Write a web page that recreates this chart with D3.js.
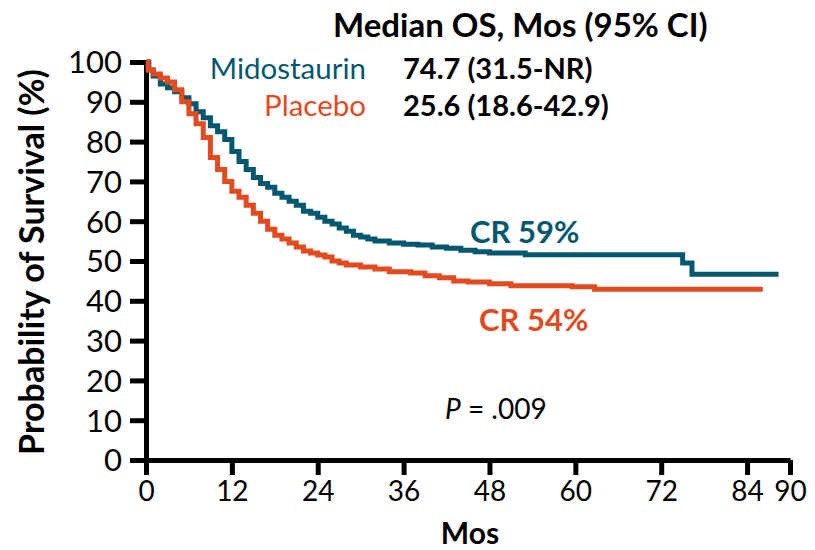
<!DOCTYPE html>
<html>
<head>
<meta charset="utf-8">
<script src="https://cdn.jsdelivr.net/npm/d3@7"></script>
<style>
  body { margin: 0; background: #fff; }
  text { font-family: Lato, "Open Sans", sans-serif; }
</style>
</head>
<body>
<div id="viz"></div>
<script>
const width = 815;
const height = 550;
const teal = '#03586f';
const orange = '#e24a1f';

// Kaplan-Meier steps: [month, % surviving]
const midostaurin = [
  [0,100],[0.4,98],[1,96.5],[2,94.5],[3,93.5],[4,92.5],[5,91],[6,89.5],[7,87.5],[8,86],
  [9,84],[10,82.5],[11,80.5],[12,77.5],[13,75],[14,73],[15,71],[16,69.5],[17,68.5],[18,67],
  [19,66],[20,65],[21,64],[22,62.5],[23,62],[24,61],[25,60],[26,59.3],[27,58.3],[28,57.5],
  [29,56.5],[30,56],[31,55.5],[32,55],[34,54.5],[36,54.2],[38,54],[40,53.5],[42,53.2],
  [44,52.7],[46,52.3],[48,52],[53,51.6],[75,49.5],[76.3,46.7],[88.4,46.7]
];
const placebo = [
  [0,100],[0.3,98],[1,97],[2,96],[3,95],[4,93],[5,90],[6,87],[7,84.5],[8,81],
  [9,76],[10,73],[11,70],[12,67.5],[13,66],[14,64],[15,62],[16,60],[17,58],[18,56.5],
  [19,55.5],[20,54.5],[21,53.5],[22,52.5],[23,52],[24,51.5],[25,51],[26,50],[27,49.5],
  [28,49],[30,48.5],[32,48],[34,47.3],[37,47],[39,46.3],[41,45.8],[43,45],[45,44.7],
  [48,44.3],[51,43.8],[59.6,43.5],[62.7,42.9],[86.2,42.9]
];

const xTicks = [0, 12, 24, 36, 48, 60, 72, 84, 90];
const yTicks = [0, 10, 20, 30, 40, 50, 60, 70, 80, 90, 100];

const medianRows = [
  {name: 'Midostaurin', value: '74.7 (31.5-NR)', color: teal},
  {name: 'Placebo', value: '25.6 (18.6-42.9)', color: orange}
];

const xScale = d3.scaleLinear().domain([0, 90]).range([146, 790]);
const yScale = d3.scaleLinear().domain([0, 100]).range([460, 62]);

const svg = d3.select('#viz')
  .append('svg')
    .attr('width', width)
    .attr('height', height)
    .attr('viewBox', [0, 0, width, height]);

// axes
const xAxis = svg.append('g')
  .attr('transform', `translate(0, ${yScale(0)})`)
  .call(d3.axisBottom(xScale).tickValues(xTicks).tickSize(15).tickSizeOuter(0).tickPadding(6))
xAxis.selectAll('text').attr('font-size', 28).attr('fill', '#000').attr('font-family', 'Lato');

const yAxis = svg.append('g')
  .attr('transform', `translate(${xScale(0)}, 0)`)
  .call(d3.axisLeft(yScale).tickValues(yTicks).tickSize(16).tickSizeOuter(0).tickPadding(8))
yAxis.selectAll('text').attr('font-size', 31).attr('fill', '#000').attr('font-family', 'Lato').attr('dy', '0.35em');

svg.selectAll('.domain, .tick line')
  .attr('stroke', '#000')
  .attr('stroke-width', 5);

// curves
const line = d3.line()
  .x(d => xScale(d[0]))
  .y(d => yScale(d[1]))
  .curve(d3.curveStepAfter);

svg.append('path')
  .attr('d', line(midostaurin))
  .attr('fill', 'none')
  .attr('stroke', teal)
  .attr('stroke-width', 5);

svg.append('path')
  .attr('d', line(placebo))
  .attr('fill', 'none')
  .attr('stroke', orange)
  .attr('stroke-width', 5);

// axis titles
svg.append('text')
  .attr('x', 470)
  .attr('y', 544)
  .attr('text-anchor', 'middle')
  .attr('font-size', 30)
  .attr('font-weight', 'bold')
  .text('Mos');

svg.append('text')
  .attr('transform', 'translate(44, 262) rotate(-90)')
  .attr('text-anchor', 'middle')
  .attr('font-size', 34)
  .attr('font-weight', 'bold')
  .text('Probability of Survival (%)');

// median OS table
svg.append('text')
  .attr('x', 333)
  .attr('y', 37)
  .attr('font-size', 33)
  .attr('font-weight', 'bold')
  .text('Median OS, Mos (95% CI)');

svg.selectAll('.row-name')
  .data(medianRows)
  .join('text')
  .attr('class', 'row-name')
  .attr('x', 366)
  .attr('y', (d, i) => 79 + i * 37)
  .attr('text-anchor', 'end')
  .attr('font-size', 29.5)
  .attr('fill', d => d.color)
  .text(d => d.name);

svg.selectAll('.row-value')
  .data(medianRows)
  .join('text')
  .attr('class', 'row-value')
  .attr('x', 403)
  .attr('y', (d, i) => 79 + i * 37)
  .attr('font-size', 29)
  .attr('font-weight', 'bold')
  .text(d => d.value);

// annotations
svg.append('text')
  .attr('x', 470)
  .attr('y', 243)
  .attr('font-size', 31)
  .attr('font-weight', 'bold')
  .attr('fill', teal)
  .text('CR 59%');

svg.append('text')
  .attr('x', 479)
  .attr('y', 331)
  .attr('font-size', 31)
  .attr('font-weight', 'bold')
  .attr('fill', orange)
  .text('CR 54%');

const pText = svg.append('text')
  .attr('x', 445)
  .attr('y', 419)
  .attr('font-size', 28);
pText.append('tspan').attr('font-style', 'italic').text('P');
pText.append('tspan').text(' = .009');
</script>
</body>
</html>
